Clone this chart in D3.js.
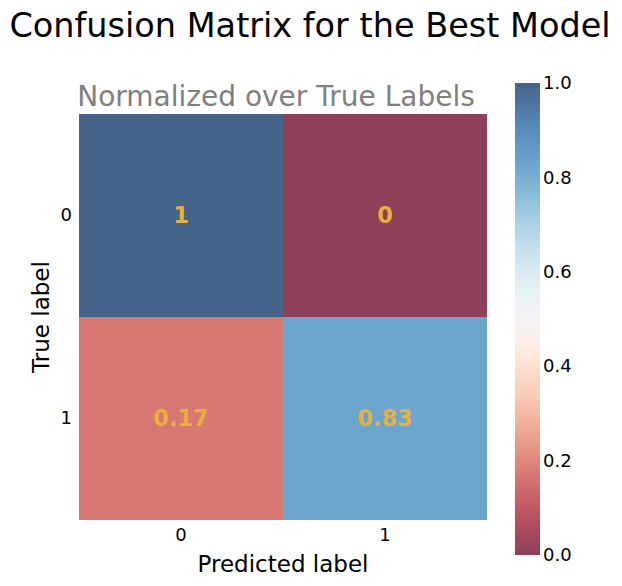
<!DOCTYPE html>
<html><head><meta charset="utf-8">
<script src="https://cdn.jsdelivr.net/npm/d3@7"></script>
<style>body{margin:0;background:#fff;font-family:"DejaVu Sans",sans-serif}</style>
</head><body>
<svg id="chart" width="622" height="586"></svg>
<script>
const predLabels = ["0", "1"];
const trueLabels = ["0", "1"];
const values = [[1, 0], [0.17, 0.83]];
const cellText = [["1", "0"], ["0.17", "0.83"]];
const cbTicks = [0, 0.2, 0.4, 0.6, 0.8, 1.0];

const svg = d3.select("#chart");
// RdBu with alpha 0.75 over white
const color = v => {
  const c = d3.rgb(d3.interpolateRdBu(v));
  return d3.rgb(c.r * 0.75 + 64, c.g * 0.75 + 64, c.b * 0.75 + 64).toString();
};

const x = d3.scaleBand().domain(predLabels).range([79, 487]);
const y = d3.scaleBand().domain(trueLabels).range([114, 520]);

svg.append("text").attr("x", 310).attr("y", 37).attr("text-anchor", "middle")
  .attr("font-size", 33.5).text("Confusion Matrix for the Best Model");
svg.append("text").attr("x", 276).attr("y", 106).attr("text-anchor", "middle")
  .attr("font-size", 28).attr("fill", "#808080").text("Normalized over True Labels");

const cells = [];
trueLabels.forEach((t, i) => predLabels.forEach((p, j) => cells.push({t, p, v: values[i][j], s: cellText[i][j]})));

svg.selectAll("rect.cell").data(cells).enter().append("rect")
  .attr("x", d => x(d.p)).attr("y", d => y(d.t))
  .attr("width", x.bandwidth()).attr("height", y.bandwidth())
  .attr("fill", d => color(d.v));
svg.selectAll("text.val").data(cells).enter().append("text")
  .attr("x", d => x(d.p) + x.bandwidth() / 2).attr("y", d => y(d.t) + y.bandwidth() / 2)
  .attr("dy", "0.35em").attr("text-anchor", "middle").attr("font-size", 22.5)
  .attr("font-weight", "bold").attr("fill", "#e8b03a").text(d => d.s);

const xa = svg.append("g").attr("transform", "translate(0,520)")
  .call(d3.axisBottom(x).tickSize(0).tickPadding(8));
const ya = svg.append("g").attr("transform", "translate(79,0)")
  .call(d3.axisLeft(y).tickSize(0).tickPadding(7));
[xa, ya].forEach(a => { a.select(".domain").remove(); a.selectAll("text").attr("font-size", 18).attr("font-family", "DejaVu Sans").attr("fill", "#000"); });

svg.append("text").attr("x", 283).attr("y", 572).attr("text-anchor", "middle")
  .attr("font-size", 23).text("Predicted label");
svg.append("text").attr("transform", "translate(49,317) rotate(-90)").attr("text-anchor", "middle")
  .attr("font-size", 23).text("True label");

// colorbar
const cy = d3.scaleLinear().domain([0, 1]).range([555, 83]);
const grad = svg.append("defs").append("linearGradient").attr("id", "cb")
  .attr("x1", 0).attr("y1", 1).attr("x2", 0).attr("y2", 0);
d3.range(0, 1.0001, 0.05).forEach(t => grad.append("stop").attr("offset", t).attr("stop-color", color(t)));
svg.append("rect").attr("x", 515).attr("y", 83).attr("width", 25).attr("height", 472).attr("fill", "url(#cb)");
const ca = svg.append("g").attr("transform", "translate(540,0)")
  .call(d3.axisRight(cy).tickValues(cbTicks).tickFormat(d3.format(".1f")).tickSize(0).tickPadding(3));
ca.select(".domain").remove();
ca.selectAll("text").attr("font-size", 18).attr("font-family", "DejaVu Sans").attr("fill", "#000");
</script>
</body></html>
